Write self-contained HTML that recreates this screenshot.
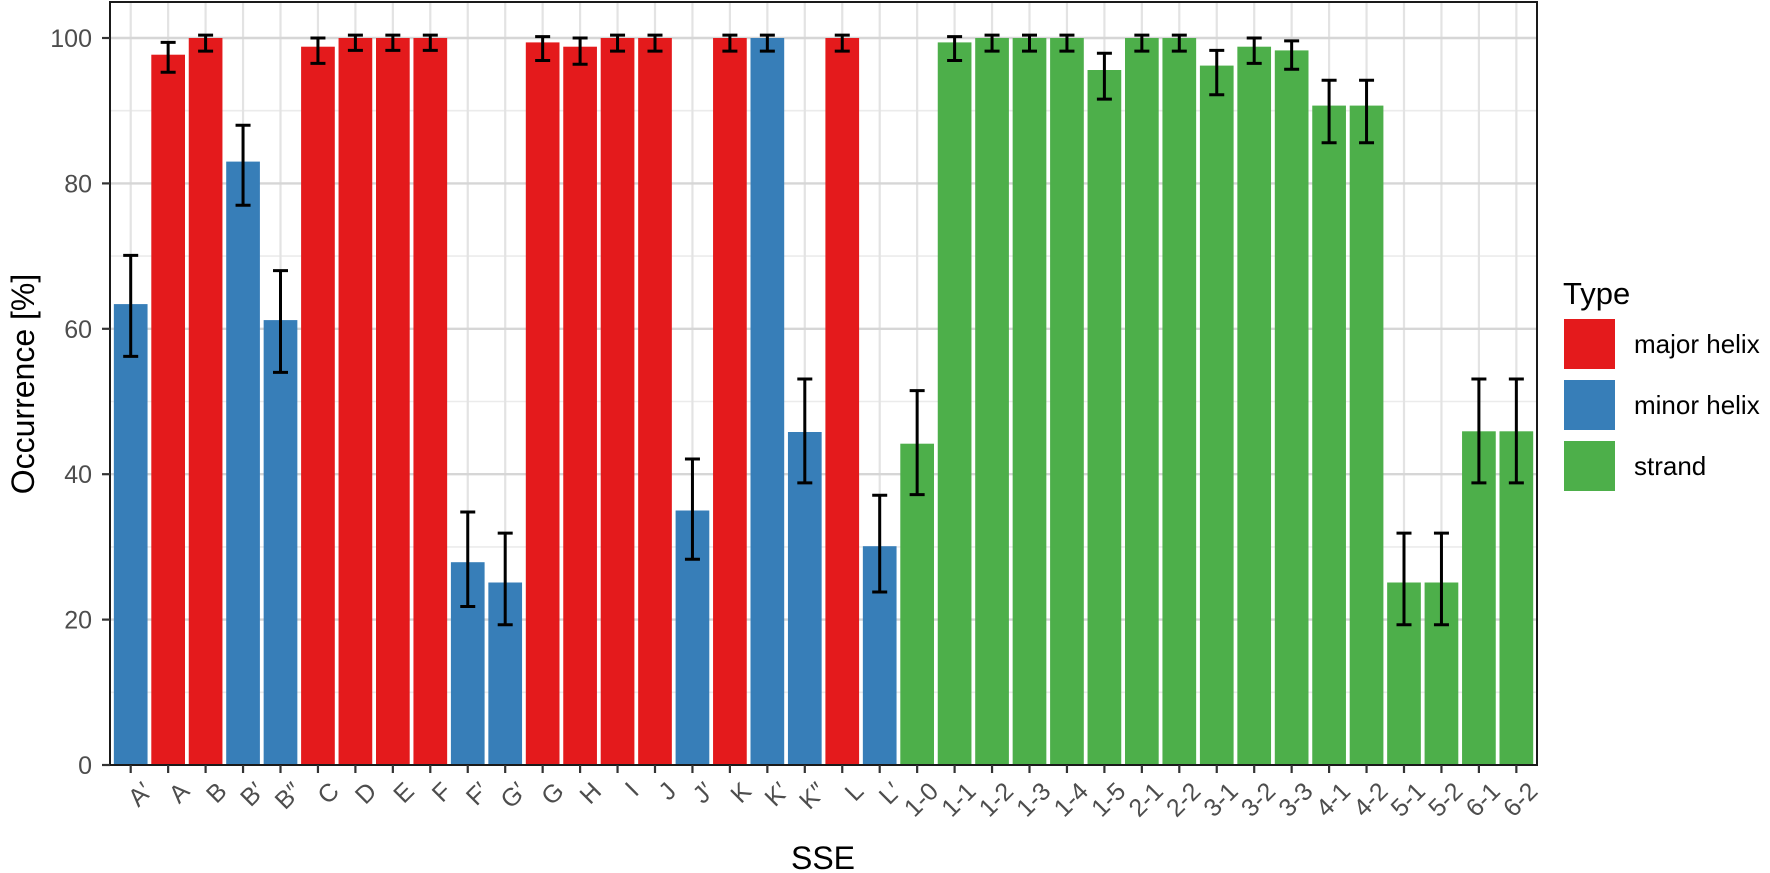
<!DOCTYPE html>
<html><head><meta charset="utf-8"><style>
html,body{margin:0;padding:0;background:#fff}
svg{display:block}
text{font-family:"Liberation Sans",Arial,sans-serif}
</style></head><body>
<svg width="1770" height="873" viewBox="0 0 1770 873" xmlns="http://www.w3.org/2000/svg">
<rect x="0" y="0" width="1770" height="873" fill="#fff"/>
<!-- minor grid -->
<g stroke="#ebebeb" stroke-width="1.6">
<line x1="110" x2="1537" y1="692.3" y2="692.3"/><line x1="110" x2="1537" y1="546.9" y2="546.9"/><line x1="110" x2="1537" y1="401.5" y2="401.5"/><line x1="110" x2="1537" y1="256.1" y2="256.1"/><line x1="110" x2="1537" y1="110.7" y2="110.7"/>
</g>
<g stroke="#e3e3e3" stroke-width="2.2">
<line x1="130.7" x2="130.7" y1="2" y2="765"/><line x1="168.15" x2="168.15" y1="2" y2="765"/><line x1="205.6" x2="205.6" y1="2" y2="765"/><line x1="243.05" x2="243.05" y1="2" y2="765"/><line x1="280.5" x2="280.5" y1="2" y2="765"/><line x1="317.95" x2="317.95" y1="2" y2="765"/><line x1="355.4" x2="355.4" y1="2" y2="765"/><line x1="392.85" x2="392.85" y1="2" y2="765"/><line x1="430.3" x2="430.3" y1="2" y2="765"/><line x1="467.75" x2="467.75" y1="2" y2="765"/><line x1="505.2" x2="505.2" y1="2" y2="765"/><line x1="542.65" x2="542.65" y1="2" y2="765"/><line x1="580.1" x2="580.1" y1="2" y2="765"/><line x1="617.55" x2="617.55" y1="2" y2="765"/><line x1="655" x2="655" y1="2" y2="765"/><line x1="692.45" x2="692.45" y1="2" y2="765"/><line x1="729.9" x2="729.9" y1="2" y2="765"/><line x1="767.35" x2="767.35" y1="2" y2="765"/><line x1="804.8" x2="804.8" y1="2" y2="765"/><line x1="842.25" x2="842.25" y1="2" y2="765"/><line x1="879.7" x2="879.7" y1="2" y2="765"/><line x1="917.15" x2="917.15" y1="2" y2="765"/><line x1="954.6" x2="954.6" y1="2" y2="765"/><line x1="992.05" x2="992.05" y1="2" y2="765"/><line x1="1029.5" x2="1029.5" y1="2" y2="765"/><line x1="1066.95" x2="1066.95" y1="2" y2="765"/><line x1="1104.4" x2="1104.4" y1="2" y2="765"/><line x1="1141.85" x2="1141.85" y1="2" y2="765"/><line x1="1179.3" x2="1179.3" y1="2" y2="765"/><line x1="1216.75" x2="1216.75" y1="2" y2="765"/><line x1="1254.2" x2="1254.2" y1="2" y2="765"/><line x1="1291.65" x2="1291.65" y1="2" y2="765"/><line x1="1329.1" x2="1329.1" y1="2" y2="765"/><line x1="1366.55" x2="1366.55" y1="2" y2="765"/><line x1="1404" x2="1404" y1="2" y2="765"/><line x1="1441.45" x2="1441.45" y1="2" y2="765"/><line x1="1478.9" x2="1478.9" y1="2" y2="765"/><line x1="1516.35" x2="1516.35" y1="2" y2="765"/>
</g>
<g stroke="#d6d6d6" stroke-width="2.4">
<line x1="110" x2="1537" y1="619.6" y2="619.6"/><line x1="110" x2="1537" y1="474.2" y2="474.2"/><line x1="110" x2="1537" y1="328.8" y2="328.8"/><line x1="110" x2="1537" y1="183.4" y2="183.4"/><line x1="110" x2="1537" y1="38" y2="38"/>
</g>
<!-- bars -->
<g>
<rect x="113.85" y="304.1" width="33.7" height="460.9" fill="#377eb8"/>
<rect x="151.3" y="54.7" width="33.7" height="710.3" fill="#e41a1c"/>
<rect x="188.75" y="38" width="33.7" height="727" fill="#e41a1c"/>
<rect x="226.2" y="161.6" width="33.7" height="603.4" fill="#377eb8"/>
<rect x="263.65" y="320.1" width="33.7" height="444.9" fill="#377eb8"/>
<rect x="301.1" y="46.7" width="33.7" height="718.3" fill="#e41a1c"/>
<rect x="338.55" y="38" width="33.7" height="727" fill="#e41a1c"/>
<rect x="376" y="38" width="33.7" height="727" fill="#e41a1c"/>
<rect x="413.45" y="38" width="33.7" height="727" fill="#e41a1c"/>
<rect x="450.9" y="562.2" width="33.7" height="202.8" fill="#377eb8"/>
<rect x="488.35" y="582.5" width="33.7" height="182.5" fill="#377eb8"/>
<rect x="525.8" y="42.4" width="33.7" height="722.6" fill="#e41a1c"/>
<rect x="563.25" y="46.7" width="33.7" height="718.3" fill="#e41a1c"/>
<rect x="600.7" y="38" width="33.7" height="727" fill="#e41a1c"/>
<rect x="638.15" y="38" width="33.7" height="727" fill="#e41a1c"/>
<rect x="675.6" y="510.5" width="33.7" height="254.5" fill="#377eb8"/>
<rect x="713.05" y="38" width="33.7" height="727" fill="#e41a1c"/>
<rect x="750.5" y="38" width="33.7" height="727" fill="#377eb8"/>
<rect x="787.95" y="432" width="33.7" height="333" fill="#377eb8"/>
<rect x="825.4" y="38" width="33.7" height="727" fill="#e41a1c"/>
<rect x="862.85" y="546.2" width="33.7" height="218.8" fill="#377eb8"/>
<rect x="900.3" y="443.7" width="33.7" height="321.3" fill="#4daf4a"/>
<rect x="937.75" y="42.4" width="33.7" height="722.6" fill="#4daf4a"/>
<rect x="975.2" y="38" width="33.7" height="727" fill="#4daf4a"/>
<rect x="1012.65" y="38" width="33.7" height="727" fill="#4daf4a"/>
<rect x="1050.1" y="38" width="33.7" height="727" fill="#4daf4a"/>
<rect x="1087.55" y="70" width="33.7" height="695" fill="#4daf4a"/>
<rect x="1125" y="38" width="33.7" height="727" fill="#4daf4a"/>
<rect x="1162.45" y="38" width="33.7" height="727" fill="#4daf4a"/>
<rect x="1199.9" y="65.6" width="33.7" height="699.4" fill="#4daf4a"/>
<rect x="1237.35" y="46.7" width="33.7" height="718.3" fill="#4daf4a"/>
<rect x="1274.8" y="50.4" width="33.7" height="714.6" fill="#4daf4a"/>
<rect x="1312.25" y="105.6" width="33.7" height="659.4" fill="#4daf4a"/>
<rect x="1349.7" y="105.6" width="33.7" height="659.4" fill="#4daf4a"/>
<rect x="1387.15" y="582.5" width="33.7" height="182.5" fill="#4daf4a"/>
<rect x="1424.6" y="582.5" width="33.7" height="182.5" fill="#4daf4a"/>
<rect x="1462.05" y="431.3" width="33.7" height="333.7" fill="#4daf4a"/>
<rect x="1499.5" y="431.3" width="33.7" height="333.7" fill="#4daf4a"/>
</g>
<!-- error bars -->
<g stroke="#000" stroke-width="3" fill="none">
<path d="M123.2 255.4h15M130.7 255.4V356.4M123.2 356.4h15"/>
<path d="M160.65 42.4h15M168.15 42.4V72.2M160.65 72.2h15"/>
<path d="M198.1 35.1h15M205.6 35.1V51.1M198.1 51.1h15"/>
<path d="M235.55 125.2h15M243.05 125.2V205.2M235.55 205.2h15"/>
<path d="M273 270.6h15M280.5 270.6V372.4M273 372.4h15"/>
<path d="M310.45 38h15M317.95 38V63.4M310.45 63.4h15"/>
<path d="M347.9 35.1h15M355.4 35.1V50.4M347.9 50.4h15"/>
<path d="M385.35 35.1h15M392.85 35.1V50.4M385.35 50.4h15"/>
<path d="M422.8 35.1h15M430.3 35.1V50.4M422.8 50.4h15"/>
<path d="M460.25 512h15M467.75 512V606.5M460.25 606.5h15"/>
<path d="M497.7 533.1h15M505.2 533.1V624.7M497.7 624.7h15"/>
<path d="M535.15 36.6h15M542.65 36.6V60.5M535.15 60.5h15"/>
<path d="M572.6 38h15M580.1 38V64.2M572.6 64.2h15"/>
<path d="M610.05 35.1h15M617.55 35.1V51.1M610.05 51.1h15"/>
<path d="M647.5 35.1h15M655 35.1V51.1M647.5 51.1h15"/>
<path d="M684.95 459h15M692.45 459V559.3M684.95 559.3h15"/>
<path d="M722.4 35.1h15M729.9 35.1V51.1M722.4 51.1h15"/>
<path d="M759.85 35.1h15M767.35 35.1V51.1M759.85 51.1h15"/>
<path d="M797.3 379h15M804.8 379V482.9M797.3 482.9h15"/>
<path d="M834.75 35.1h15M842.25 35.1V51.1M834.75 51.1h15"/>
<path d="M872.2 495.3h15M879.7 495.3V592M872.2 592h15"/>
<path d="M909.65 390.6h15M917.15 390.6V494.6M909.65 494.6h15"/>
<path d="M947.1 36.6h15M954.6 36.6V60.5M947.1 60.5h15"/>
<path d="M984.55 35.1h15M992.05 35.1V51.1M984.55 51.1h15"/>
<path d="M1022 35.1h15M1029.5 35.1V51.1M1022 51.1h15"/>
<path d="M1059.45 35.1h15M1066.95 35.1V51.1M1059.45 51.1h15"/>
<path d="M1096.9 53.3h15M1104.4 53.3V99.1M1096.9 99.1h15"/>
<path d="M1134.35 35.1h15M1141.85 35.1V51.1M1134.35 51.1h15"/>
<path d="M1171.8 35.1h15M1179.3 35.1V51.1M1171.8 51.1h15"/>
<path d="M1209.25 50.4h15M1216.75 50.4V94.7M1209.25 94.7h15"/>
<path d="M1246.7 38h15M1254.2 38V63.4M1246.7 63.4h15"/>
<path d="M1284.15 40.9h15M1291.65 40.9V69.3M1284.15 69.3h15"/>
<path d="M1321.6 80.2h15M1329.1 80.2V142.7M1321.6 142.7h15"/>
<path d="M1359.05 80.2h15M1366.55 80.2V142.7M1359.05 142.7h15"/>
<path d="M1396.5 533.1h15M1404 533.1V624.7M1396.5 624.7h15"/>
<path d="M1433.95 533.1h15M1441.45 533.1V624.7M1433.95 624.7h15"/>
<path d="M1471.4 379h15M1478.9 379V482.9M1471.4 482.9h15"/>
<path d="M1508.85 379h15M1516.35 379V482.9M1508.85 482.9h15"/>
</g>
<!-- panel border -->
<rect x="110" y="2" width="1427" height="763" fill="none" stroke="#1a1a1a" stroke-width="2"/>
<!-- y ticks -->
<g stroke="#333" stroke-width="2.2">
<line x1="102" x2="110" y1="765" y2="765"/><line x1="102" x2="110" y1="619.6" y2="619.6"/><line x1="102" x2="110" y1="474.2" y2="474.2"/><line x1="102" x2="110" y1="328.8" y2="328.8"/><line x1="102" x2="110" y1="183.4" y2="183.4"/><line x1="102" x2="110" y1="38" y2="38"/>
</g>
<g font-size="25" fill="#4d4d4d" text-anchor="end">
<text x="92" y="774">0</text><text x="92" y="628.6">20</text><text x="92" y="483.2">40</text><text x="92" y="337.8">60</text><text x="92" y="192.4">80</text><text x="92" y="47">100</text>
</g>
<!-- x ticks -->
<g stroke="#333" stroke-width="2.2">
<path d="M130.7 765v8M168.15 765v8M205.6 765v8M243.05 765v8M280.5 765v8M317.95 765v8M355.4 765v8M392.85 765v8M430.3 765v8M467.75 765v8M505.2 765v8M542.65 765v8M580.1 765v8M617.55 765v8M655 765v8M692.45 765v8M729.9 765v8M767.35 765v8M804.8 765v8M842.25 765v8M879.7 765v8M917.15 765v8M954.6 765v8M992.05 765v8M1029.5 765v8M1066.95 765v8M1104.4 765v8M1141.85 765v8M1179.3 765v8M1216.75 765v8M1254.2 765v8M1291.65 765v8M1329.1 765v8M1366.55 765v8M1404 765v8M1441.45 765v8M1478.9 765v8M1516.35 765v8"/>
</g>
<g font-size="25" fill="#4d4d4d" text-anchor="end">
<text transform="translate(140.7,780) rotate(-45)" y="18">A′</text>
<text transform="translate(178.15,780) rotate(-45)" y="18">A</text>
<text transform="translate(215.6,780) rotate(-45)" y="18">B</text>
<text transform="translate(253.05,780) rotate(-45)" y="18">B′</text>
<text transform="translate(290.5,780) rotate(-45)" y="18">B″</text>
<text transform="translate(327.95,780) rotate(-45)" y="18">C</text>
<text transform="translate(365.4,780) rotate(-45)" y="18">D</text>
<text transform="translate(402.85,780) rotate(-45)" y="18">E</text>
<text transform="translate(440.3,780) rotate(-45)" y="18">F</text>
<text transform="translate(477.75,780) rotate(-45)" y="18">F′</text>
<text transform="translate(515.2,780) rotate(-45)" y="18">G′</text>
<text transform="translate(552.65,780) rotate(-45)" y="18">G</text>
<text transform="translate(590.1,780) rotate(-45)" y="18">H</text>
<text transform="translate(627.55,780) rotate(-45)" y="18">I</text>
<text transform="translate(665,780) rotate(-45)" y="18">J</text>
<text transform="translate(702.45,780) rotate(-45)" y="18">J′</text>
<text transform="translate(739.9,780) rotate(-45)" y="18">K</text>
<text transform="translate(777.35,780) rotate(-45)" y="18">K′</text>
<text transform="translate(814.8,780) rotate(-45)" y="18">K″</text>
<text transform="translate(852.25,780) rotate(-45)" y="18">L</text>
<text transform="translate(889.7,780) rotate(-45)" y="18">L′</text>
<text transform="translate(927.15,780) rotate(-45)" y="18">1-0</text>
<text transform="translate(964.6,780) rotate(-45)" y="18">1-1</text>
<text transform="translate(1002.05,780) rotate(-45)" y="18">1-2</text>
<text transform="translate(1039.5,780) rotate(-45)" y="18">1-3</text>
<text transform="translate(1076.95,780) rotate(-45)" y="18">1-4</text>
<text transform="translate(1114.4,780) rotate(-45)" y="18">1-5</text>
<text transform="translate(1151.85,780) rotate(-45)" y="18">2-1</text>
<text transform="translate(1189.3,780) rotate(-45)" y="18">2-2</text>
<text transform="translate(1226.75,780) rotate(-45)" y="18">3-1</text>
<text transform="translate(1264.2,780) rotate(-45)" y="18">3-2</text>
<text transform="translate(1301.65,780) rotate(-45)" y="18">3-3</text>
<text transform="translate(1339.1,780) rotate(-45)" y="18">4-1</text>
<text transform="translate(1376.55,780) rotate(-45)" y="18">4-2</text>
<text transform="translate(1414,780) rotate(-45)" y="18">5-1</text>
<text transform="translate(1451.45,780) rotate(-45)" y="18">5-2</text>
<text transform="translate(1488.9,780) rotate(-45)" y="18">6-1</text>
<text transform="translate(1526.35,780) rotate(-45)" y="18">6-2</text>
</g>
<!-- axis titles -->
<text x="823" y="869" font-size="32" text-anchor="middle" fill="#000">SSE</text>
<text transform="translate(34,384) rotate(-90)" font-size="32" text-anchor="middle" fill="#000">Occurrence [%]</text>
<!-- legend -->
<text x="1563" y="304" font-size="31" fill="#000">Type</text>
<rect x="1564" y="319" width="51" height="50" fill="#e41a1c"/>
<rect x="1564" y="380" width="51" height="50" fill="#377eb8"/>
<rect x="1564" y="441" width="51" height="50" fill="#4daf4a"/>
<g font-size="26" fill="#000">
<text x="1634" y="353">major helix</text>
<text x="1634" y="414">minor helix</text>
<text x="1634" y="475">strand</text>
</g>
</svg>
</body></html>
